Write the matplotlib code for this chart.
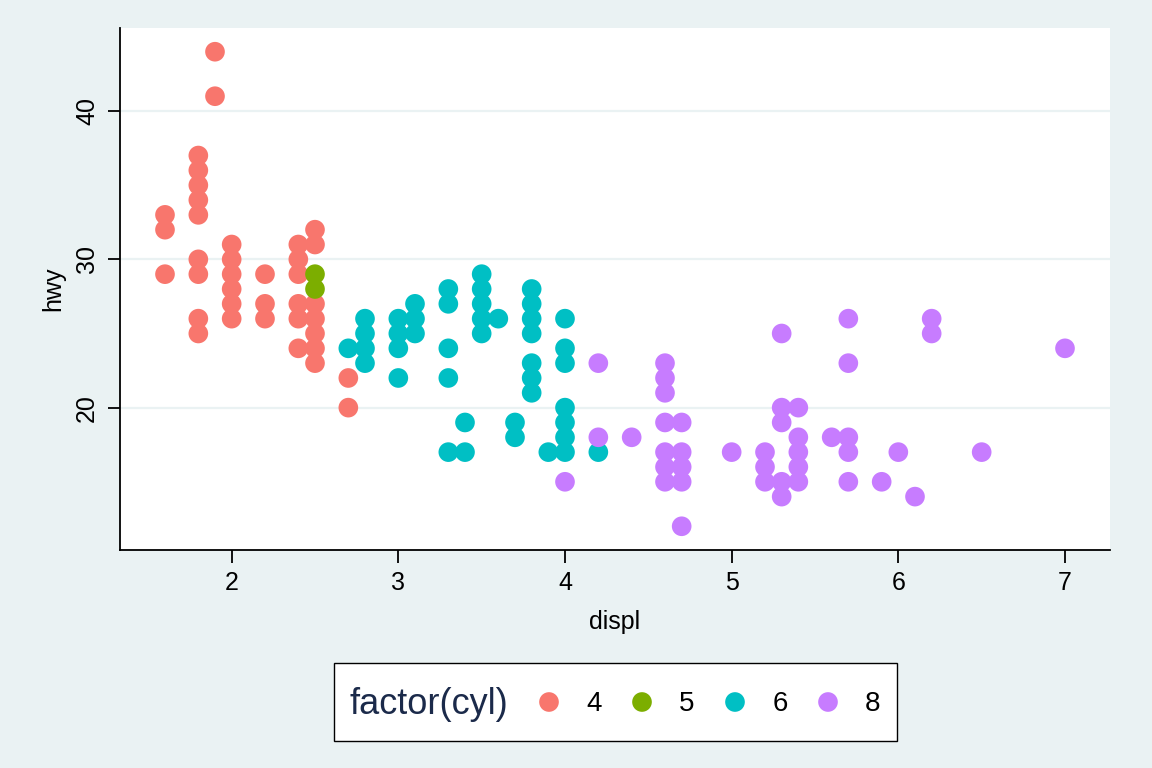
import matplotlib
matplotlib.use("Agg")
import matplotlib.pyplot as plt
from matplotlib.patches import Rectangle

plt.rcParams['font.family'] = ['Liberation Sans', 'DejaVu Sans']

# mpg data (one point per distinct displ/hwy pair)
displ_4 = [1.6, 1.6, 1.6, 1.8, 1.8, 1.8, 1.8, 1.8, 1.8, 1.8, 1.8, 1.8, 1.9, 1.9,
           2.0, 2.0, 2.0, 2.0, 2.0, 2.0, 2.2, 2.2, 2.2, 2.4, 2.4, 2.4, 2.4, 2.4, 2.4,
           2.5, 2.5, 2.5, 2.5, 2.5, 2.5, 2.5, 2.7, 2.7]
hwy_4 = [33, 32, 29, 37, 36, 35, 34, 33, 30, 29, 26, 25, 44, 41,
         31, 30, 29, 28, 27, 26, 29, 27, 26, 31, 30, 29, 27, 26, 24,
         32, 31, 27, 26, 25, 24, 23, 22, 20]

displ_5 = [2.5, 2.5]
hwy_5 = [29, 28]

displ_6 = [2.7, 2.8, 2.8, 2.8, 2.8, 3.0, 3.0, 3.0, 3.0, 3.1, 3.1, 3.1,
           3.3, 3.3, 3.3, 3.3, 3.3, 3.4, 3.4, 3.5, 3.5, 3.5, 3.5, 3.5, 3.6,
           3.7, 3.7, 3.8, 3.8, 3.8, 3.8, 3.8, 3.8, 3.8, 3.9,
           4.0, 4.0, 4.0, 4.0, 4.0, 4.0, 4.0, 4.2]
hwy_6 = [24, 26, 25, 24, 23, 26, 25, 24, 22, 27, 26, 25,
         28, 27, 24, 22, 17, 19, 17, 29, 28, 27, 26, 25, 26,
         19, 18, 28, 27, 26, 25, 23, 22, 21, 17,
         26, 24, 23, 20, 19, 18, 17, 17]

displ_8 = [4.0, 4.2, 4.2, 4.4, 4.6, 4.6, 4.6, 4.6, 4.6, 4.6, 4.6,
           4.7, 4.7, 4.7, 4.7, 4.7, 5.0, 5.2, 5.2, 5.2,
           5.3, 5.3, 5.3, 5.3, 5.3, 5.4, 5.4, 5.4, 5.4, 5.4, 5.6,
           5.7, 5.7, 5.7, 5.7, 5.7, 5.9, 6.0, 6.1, 6.2, 6.2, 6.5, 7.0]
hwy_8 = [15, 23, 18, 18, 23, 22, 21, 19, 17, 16, 15,
         19, 17, 16, 15, 12, 17, 17, 16, 15,
         25, 20, 19, 15, 14, 20, 18, 17, 16, 15, 18,
         26, 23, 18, 17, 15, 15, 17, 14, 26, 25, 17, 24]

cyl_labels = ['4', '5', '6', '8']
colors = ['#F8766D', '#7CAE00', '#00BFC4', '#C77CFF']
series = [(displ_4, hwy_4), (displ_5, hwy_5), (displ_6, hwy_6), (displ_8, hwy_8)]

bg = '#EAF2F3'
W, H = 1152, 768

fig = plt.figure(figsize=(W / 100, H / 100), dpi=100, facecolor=bg)
ax = fig.add_axes([120 / W, 1 - 550 / H, 990 / W, 522 / H])
ax.set_facecolor('white')

for (x, y), c in zip(series, colors):
    ax.scatter(x, y, s=200, color=c, edgecolors='none', zorder=3)

ax.set_xlim(1.33, 7.27)
ax.set_ylim(10.4, 45.6)
ax.set_xticks([2, 3, 4, 5, 6, 7])
ax.set_yticks([20, 30, 40])
ax.yaxis.grid(True, color=bg, linewidth=1.6)
ax.set_axisbelow(True)

for s in ['top', 'right']:
    ax.spines[s].set_visible(False)
for s in ['left', 'bottom']:
    ax.spines[s].set_color('black')
    ax.spines[s].set_linewidth(1.3)

ax.tick_params(axis='both', length=9, width=1.3, color='black', labelsize=18, pad=6)
for lab in ax.get_yticklabels():
    lab.set_rotation(90)
    lab.set_va('center')

ax.set_xlabel('displ', fontsize=18, labelpad=11)
ax.set_ylabel('hwy', fontsize=18, labelpad=7)

# legend strip at the bottom, in pixel coordinates
lax = fig.add_axes([0, 0, 1, 1], facecolor='none')
lax.set_xlim(0, W)
lax.set_ylim(H, 0)
lax.axis('off')
lax.add_patch(Rectangle((334, 663), 563, 78, facecolor='white', edgecolor='black', linewidth=1.0))
lax.text(350, 704, 'factor(cyl)', fontsize=26, color='#1B2A4A', va='center', ha='left')
mark_x = [549, 642, 735, 828]
for mx, lab, c in zip(mark_x, cyl_labels, colors):
    lax.scatter([mx], [702], s=200, color=c, edgecolors='none')
    lax.text(mx + 45, 704, lab, fontsize=20, color='black', va='center', ha='center')

fig.savefig('out.png', dpi=100, facecolor=bg)
